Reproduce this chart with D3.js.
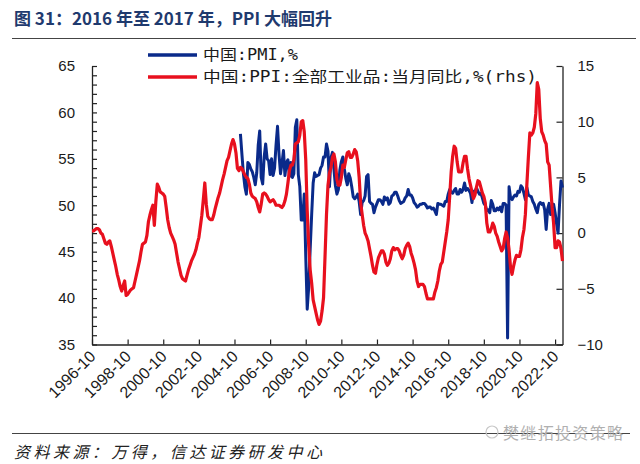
<!DOCTYPE html>
<html><head><meta charset="utf-8">
<script src="https://cdn.jsdelivr.net/npm/d3@7/dist/d3.min.js"></script>
<style>body{margin:0;background:#fff}svg{display:block}</style>
</head><body>
<svg id="c" width="640" height="464"></svg>
<script>
// ---------- data ----------
const startMonth = "1996-10";
// PPI: 全部工业品 当月同比 (%), monthly from 1996-10 to 2023-03
const ppiValues = [
  0.2, 0.2, 0.3,
  0.4, 0.4, 0.3, 0.0, -0.1, -0.5, -0.9, -1.0, -0.8, -0.7, -1.2, -1.8,
  -2.4, -3.0, -3.7, -4.2, -4.8, -5.2, -4.7, -4.3, -5.6, -5.5, -5.3, -5.1,
  -5.0, -4.9, -4.3, -3.7, -3.1, -2.5, -1.7, -1.0, -0.9, -0.8, -0.2, 1.0,
  1.6, 2.1, 2.5, 0.7, 2.8, 4.4, 4.1, 3.7, 3.6, 3.5, 3.3, 2.3,
  1.2, 0.5, 0.0, -0.3, -0.6, -1.0, -1.8, -2.6, -3.2, -3.8, -4.1, -4.2,
  -4.3, -3.8, -3.3, -2.9, -2.5, -2.2, -1.9, -1.5, -0.9, -0.4, 0.6, 1.6,
  3.0, 4.5, 2.6, 1.5, 1.3, 1.2, 1.2, 1.6, 2.2, 2.7, 3.2, 3.6,
  4.2, 4.8, 5.3, 5.9, 6.5, 6.8, 7.4, 8.0, 8.4, 8.0, 7.2, 5.8,
  5.6, 5.9, 5.8, 5.5, 5.2, 5.0, 4.9, 4.4, 3.6, 3.3, 3.2, 3.1,
  2.8, 2.3, 1.9, 2.6, 3.5, 3.6, 3.5, 3.3, 3.0, 2.8, 2.9, 3.0,
  2.8, 2.5, 2.5, 2.5, 2.4, 2.3, 2.5, 2.9, 3.5, 4.5, 5.6, 6.1,
  6.1, 6.6, 8.0, 8.1, 8.2, 8.8, 10.0, 10.1, 9.1, 6.6, 2.0, -1.1,
  -3.3, -4.5, -6.0, -6.6, -7.2, -7.8, -8.2, -7.9, -7.0, -5.8, -2.1, 1.7,
  4.3, 5.4, 5.9, 6.8, 7.1, 6.4, 4.8, 4.3, 4.3, 5.0, 6.1, 5.9,
  6.6, 7.2, 7.3, 6.8, 6.8, 7.1, 7.5, 7.3, 6.5, 5.0, 2.7, 1.7,
  0.7, 0.0, -0.3, -0.7, -1.4, -2.1, -2.9, -3.5, -3.6, -2.8, -2.2, -1.9,
  -1.6, -1.6, -1.9, -2.6, -2.9, -2.7, -2.3, -1.6, -1.3, -1.5, -1.4, -1.4,
  -1.6, -2.0, -2.3, -2.0, -1.4, -1.1, -0.9, -1.2, -1.8, -2.2, -2.7, -3.3,
  -4.3, -4.8, -4.6, -4.6, -4.6, -4.8, -5.4, -5.9, -5.9, -5.9, -5.9, -5.9,
  -5.3, -4.9, -4.3, -3.4, -2.8, -2.6, -1.7, -0.8, 0.1, 1.2, 3.3, 5.5,
  6.9, 7.8, 7.6, 6.4, 5.5, 5.5, 5.5, 6.3, 6.9, 6.9, 5.8, 4.9,
  4.3, 3.7, 3.1, 3.4, 4.1, 4.7, 4.6, 4.1, 3.6, 3.3, 2.7, 0.9,
  0.1, 0.1, 0.4, 0.9, 0.6, 0.0, -0.3, -0.8, -1.2, -1.6, -1.4, -0.5,
  0.1, -0.4, -1.5, -3.1, -3.7, -3.0, -2.4, -2.0, -2.1, -2.1, -1.5, -0.4,
  0.3, 1.7, 4.4, 6.8, 9.0, 8.8, 9.0, 9.5, 10.7, 13.5, 12.9, 10.3,
  9.1, 8.8, 8.3, 8.0, 6.4, 6.1, 4.2, 2.3, 0.9, -1.3, -1.3, -0.7,
  -0.8, -1.4, -2.5
];
// PMI (%), monthly from 2005-02 to 2023-03
const pmiStart = "2005-02";
const pmiValues = [
  57.7, 55.5, 53.4, 52.0, 51.2, 54.6, 54.4, 53.9, 53.6, 53.0, 52.2,
  53.5, 56.5, 58.0, 53.0, 52.3, 55.2, 56.6, 55.0, 54.8, 53.3, 55.0, 53.2,
  54.0, 56.5, 58.5, 55.5, 53.4, 54.5, 55.9, 53.2, 54.6, 54.9, 53.1, 54.6,
  53.0, 53.4, 58.4, 59.2, 53.3, 52.0, 48.4, 48.4, 51.2, 44.6, 38.8, 41.2,
  45.3, 49.0, 52.4, 53.5, 53.1, 53.2, 53.3, 54.0, 54.3, 55.2, 55.2, 56.6,
  55.8, 52.0, 55.1, 55.7, 53.9, 52.1, 51.2, 51.7, 53.8, 54.7, 55.2, 53.9,
  52.9, 52.2, 53.4, 52.9, 52.0, 50.9, 50.7, 50.9, 51.2, 50.4, 49.0, 50.3,
  50.5, 51.0, 53.1, 53.3, 50.4, 50.2, 50.1, 49.2, 49.8, 50.2, 50.6, 50.6,
  50.4, 50.1, 50.9, 50.6, 50.8, 50.1, 50.3, 51.0, 51.1, 51.4, 51.4, 51.0,
  50.5, 50.2, 50.3, 50.4, 50.8, 51.0, 51.7, 51.1, 51.1, 50.8, 50.3, 50.1,
  49.8, 49.9, 50.1, 50.1, 50.2, 50.2, 50.0, 49.7, 49.8, 49.8, 49.6, 49.7,
  49.4, 49.0, 50.2, 50.1, 50.1, 50.0, 49.9, 50.4, 50.4, 51.2, 51.7, 51.4,
  51.3, 51.6, 51.8, 51.2, 51.2, 51.7, 51.4, 51.7, 52.4, 51.6, 51.8, 51.6,
  51.3, 50.3, 51.5, 51.4, 51.9, 51.5, 51.2, 51.3, 50.8, 50.2, 50.0, 49.4,
  49.5, 49.2, 50.5, 50.1, 49.4, 49.4, 49.7, 49.5, 49.8, 49.3, 50.2, 50.2,
  50.0, 35.7, 52.0, 50.8, 50.6, 50.9, 51.1, 51.0, 51.5, 51.4, 52.1, 51.9,
  51.3, 50.6, 51.9, 51.1, 51.0, 50.9, 50.4, 50.1, 49.6, 49.2, 50.1, 50.3,
  50.1, 50.2, 49.5, 47.4, 49.6, 50.2, 49.0, 49.4, 50.1, 49.2, 48.0, 47.0,
  50.1, 52.6, 51.9
];
const xTickLabels = ["1996-10","1998-10","2000-10","2002-10","2004-10","2006-10","2008-10",
  "2010-10","2012-10","2014-10","2016-10","2018-10","2020-10","2022-10"];
const leftTicks = [35, 40, 45, 50, 55, 60, 65];
const rightTicks = [-10, -5, 0, 5, 10, 15];
const seriesNames = ["中国:PMI,%", "中国:PPI:全部工业品:当月同比,%(rhs)"];
const titleText = "图 31：2016 年至 2017 年，PPI 大幅回升";
const sourceText = "资料来源：万得，信达证券研发中心";
const watermarkText = "樊继拓投资策略";

// ---------- build ----------
const parseM = d3.timeParse("%Y-%m"), fmtM = d3.timeFormat("%Y-%m");
const months = ppiValues.map((_, i) => fmtM(d3.timeMonth.offset(parseM(startMonth), i)));
const pmiOffset = months.indexOf(pmiStart);
const ppiData = ppiValues.map((v, i) => ({m: months[i], v}));
const pmiData = pmiValues.map((v, i) => ({m: months[i + pmiOffset], v}));

const L = 92, R = 562.5, T = 66, B = 344.5;
const BLUE = "#0a2a8a", RED = "#e8101e";
const svg = d3.select("#c");

const x = d3.scalePoint().domain(months).range([L, R]);
const yL = d3.scaleLinear().domain([35, 65]).range([B, T]);
const yR = d3.scaleLinear().domain([-10, 15]).range([B, T]);

// title & rules
svg.append("text").attr("x", 14).attr("y", 25).text(titleText)
  .attr("font-family", "'Noto Sans CJK SC'").attr("font-weight", "bold")
  .attr("font-size", 17).attr("fill", "#1f3a6e");
svg.append("line").attr("x1", 12).attr("x2", 636).attr("y1", 38.5).attr("y2", 38.5)
  .attr("stroke", "#444").attr("stroke-width", 1.2);
svg.append("line").attr("x1", 12).attr("x2", 630).attr("y1", 433.5).attr("y2", 433.5)
  .attr("stroke", "#444").attr("stroke-width", 1.2);

// axes
const axL = d3.axisLeft(yL).tickValues(d3.range(35, 66, 1))
  .tickFormat(d => leftTicks.includes(d) ? d : "").tickSizeInner(-5).tickSizeOuter(0).tickPadding(17);
const gL = svg.append("g").attr("transform", `translate(${L},0)`).call(axL);
const axR = d3.axisRight(yR).tickValues(rightTicks).tickSizeInner(-6).tickSizeOuter(0).tickPadding(15)
  .tickFormat(d3.format("d"));
const gR = svg.append("g").attr("transform", `translate(${R},0)`).call(axR);
const axB = d3.axisBottom(x).tickValues(xTickLabels).tickSizeInner(-5).tickSizeOuter(0).tickPadding(0);
const gB = svg.append("g").attr("transform", `translate(0,${B})`).call(axB);

[gL, gR, gB].forEach(g => {
  g.selectAll("path.domain").attr("stroke", "#222").attr("stroke-width", 1.3);
  g.selectAll(".tick line").attr("stroke", "#222").attr("stroke-width", 1.2);
  g.selectAll("text").attr("font-family", "'Liberation Sans', Arial, sans-serif")
    .attr("font-size", 15).attr("fill", "#1a1a1a");
});
gB.selectAll(".tick text").attr("font-size", 16).attr("text-anchor", "end")
  .attr("dy", null).attr("y", 0)
  .attr("transform", "translate(4,13) rotate(-45)");

// lines
const lineL = d3.line().x(d => x(d.m)).y(d => yL(d.v));
const lineR = d3.line().x(d => x(d.m)).y(d => yR(d.v));
svg.append("path").datum(pmiData).attr("d", lineL).attr("fill", "none")
  .attr("stroke", BLUE).attr("stroke-width", 3).attr("stroke-linejoin", "round");
svg.append("path").datum(ppiData).attr("d", lineR).attr("fill", "none")
  .attr("stroke", RED).attr("stroke-width", 3.2).attr("stroke-linejoin", "round");

// legend
const legend = [{y: 55, c: BLUE, t: seriesNames[0], w: 95}, {y: 77, c: RED, t: seriesNames[1], w: 334}];
legend.forEach(d => {
  svg.append("line").attr("x1", 148).attr("x2", 197).attr("y1", d.y).attr("y2", d.y)
    .attr("stroke", d.c).attr("stroke-width", 3.5);
  svg.append("text").attr("x", 203).attr("y", d.y + 5).text(d.t)
    .attr("font-family", "'DejaVu Sans Mono','Noto Sans CJK SC',monospace").attr("font-size", 15)
    .attr("fill", "#1a1a1a").attr("textLength", d.w).attr("lengthAdjust", "spacingAndGlyphs");
});

// source & watermark
svg.append("text").attr("x", 14).attr("y", 458).text(sourceText)
  .attr("font-family", "'Noto Sans CJK SC'").attr("font-style", "italic")
  .attr("font-size", 16).attr("fill", "#222")
  .attr("textLength", 308).attr("lengthAdjust", "spacing");
const wm = svg.append("g").attr("fill", "#b8b8b8");
wm.append("circle").attr("cx", 492).attr("cy", 432).attr("r", 6).attr("fill", "none")
  .attr("stroke", "#c8c8c8").attr("stroke-width", 1.2);
wm.append("text").attr("x", 503).attr("y", 439).text(watermarkText)
  .attr("font-family", "'Noto Sans CJK SC'").attr("font-size", 16).attr("fill", "#b0b0b0")
  .attr("textLength", 120).attr("lengthAdjust", "spacing");
</script>
</body></html>
